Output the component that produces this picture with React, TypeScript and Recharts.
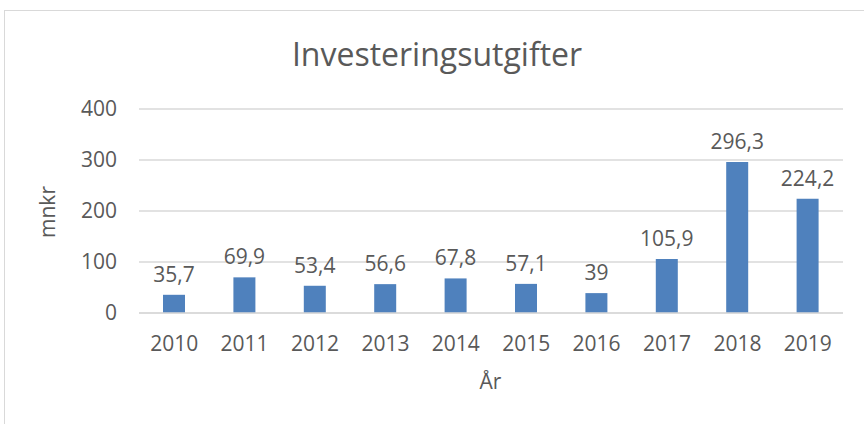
import { Bar, BarChart, CartesianGrid, LabelList, XAxis, YAxis } from "recharts"

const years = ["2010", "2011", "2012", "2013", "2014", "2015", "2016", "2017", "2018", "2019"]
const values = [35.7, 69.9, 53.4, 56.6, 67.8, 57.1, 39, 105.9, 296.3, 224.2]
const yTicks = [0, 100, 200, 300, 400]

const data = years.map((year, i) => ({ year, value: values[i] }))

const font = "'Open Sans', 'Noto Sans', sans-serif"
const textColor = "#595959"

export default function App() {
  return (
    <div style={{ position: "absolute", left: 0, top: 0, width: 864, height: 424, background: "#fff", overflow: "hidden", fontFamily: font }}>
      <div style={{ position: "absolute", left: 4, top: 10, width: 880, height: 430, border: "1px solid #d9d9d9", boxSizing: "border-box" }} />
      <div style={{ position: "absolute", left: 0, top: 32, width: 874, textAlign: "center", fontSize: 32, color: textColor }}>
        Investeringsutgifter
      </div>
      <div style={{ position: "absolute", left: 0, top: 367, width: 981, textAlign: "center", fontSize: 21, color: textColor }}>
        År
      </div>
      <div style={{ position: "absolute", left: 47, top: 212, transform: "translate(-50%, -50%) rotate(-90deg)", fontSize: 21, color: textColor }}>
        mnkr
      </div>
      <div style={{ position: "absolute", left: 0, top: 0 }}>
        <BarChart width={864} height={424} data={data} margin={{ top: 109, left: 79, right: 21, bottom: 81 }} barSize={22}>
          <CartesianGrid vertical={false} stroke="#d9d9d9" strokeWidth={1.5} />
          <XAxis
            dataKey="year"
            axisLine={{ stroke: "#d9d9d9", strokeWidth: 1.5 }}
            tickLine={false}
            tickSize={0}
            tickMargin={23}
            height={30}
            tick={{ fill: textColor, fontSize: 21, fontFamily: font }}
          />
          <YAxis
            domain={[0, 400]}
            ticks={yTicks}
            width={60}
            axisLine={false}
            tickLine={false}
            tickSize={0}
            tickMargin={22}
            tick={{ fill: textColor, fontSize: 21, fontFamily: font }}
          />
          <Bar dataKey="value" fill="#4f81bd" isAnimationActive={false}>
            <LabelList
              dataKey="value"
              position="top"
              offset={13}
              formatter={(v: any) => String(v).replace(".", ",")}
              style={{ fill: textColor, fontSize: 21, fontFamily: font }}
            />
          </Bar>
        </BarChart>
      </div>
    </div>
  )
}
